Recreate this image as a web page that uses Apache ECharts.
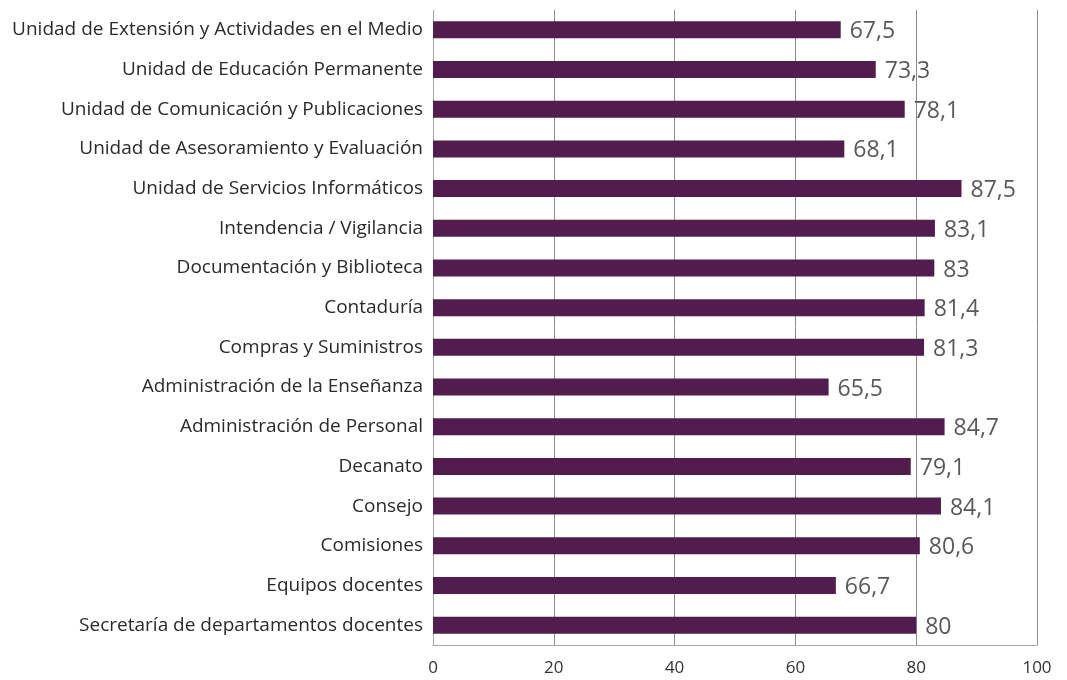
<!DOCTYPE html>
<html>
<head>
<meta charset="utf-8">
<script src="https://cdn.jsdelivr.net/npm/echarts@6/dist/echarts.min.js"></script>
<style>
  html, body { margin: 0; padding: 0; background: #fff; }
  #chart { width: 1067px; height: 680px; }
</style>
</head>
<body>
<div id="chart"></div>
<script>
// categories listed bottom to top (ECharts category y axis starts at the bottom)
const categories = [
  'Secretaría de departamentos docentes',
  'Equipos docentes',
  'Comisiones',
  'Consejo',
  'Decanato',
  'Administración de Personal',
  'Administración de la Enseñanza',
  'Compras y Suministros',
  'Contaduría',
  'Documentación y Biblioteca',
  'Intendencia / Vigilancia',
  'Unidad de Servicios Informáticos',
  'Unidad de Asesoramiento y Evaluación',
  'Unidad de Comunicación y Publicaciones',
  'Unidad de Educación Permanente',
  'Unidad de Extensión y Actividades en el Medio'
]
const values = [80, 66.7, 80.6, 84.1, 79.1, 84.7, 65.5, 81.3, 81.4, 83, 83.1, 87.5, 68.1, 78.1, 73.3, 67.5]

const xTicks = { min: 0, max: 100, interval: 20 }

const fontFamily = '"Open Sans", "Noto Sans", sans-serif'

const myChart = echarts.init(document.getElementById('chart'))
const option = {
  animation: false,
  grid: {
    left: 433,
    right: 30,
    top: 10,
    bottom: 35,
    containLabel: false
  },
  xAxis: {
    type: 'value',
    min: xTicks.min,
    max: xTicks.max,
    interval: xTicks.interval,
    axisLine: { show: true, lineStyle: { color: '#a6a6a6', width: 1 } },
    axisTick: { show: false },
    axisLabel: {
      color: '#333',
      fontSize: 17,
      fontFamily: fontFamily,
      margin: 15
    },
    splitLine: { show: true, lineStyle: { color: '#8c8c8c', width: 1 } }
  },
  yAxis: {
    type: 'category',
    data: categories,
    axisLine: { show: true, lineStyle: { color: '#a6a6a6', width: 1 } },
    axisTick: { show: false },
    axisLabel: {
      color: '#2a2a2a',
      fontSize: 19,
      fontFamily: fontFamily,
      margin: 10
    }
  },
  series: [
    {
      type: 'bar',
      data: values,
      barWidth: 17,
      itemStyle: { color: '#521c4e' },
      label: {
        show: true,
        position: 'right',
        distance: 9,
        color: '#595959',
        fontSize: 23,
        fontFamily: fontFamily,
        offset: [0, 2],
        formatter: (p) => String(p.value).replace('.', ',')
      }
    }
  ]
}
myChart.setOption(option)

window.addEventListener('resize', () => {
  myChart.resize()
})
</script>
</body>
</html>
